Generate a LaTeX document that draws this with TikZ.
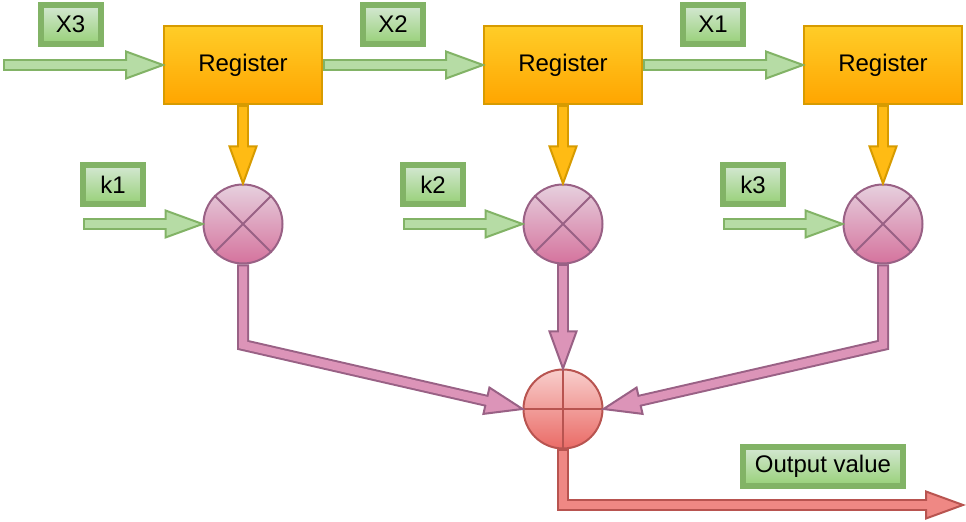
\documentclass[tikz,border=0pt]{standalone}
\usepackage{fontspec}
\setmainfont{Liberation Sans}
\usetikzlibrary{calc}
\definecolor{grntop}{HTML}{D5E8D4}
\definecolor{grnbot}{HTML}{97D077}
\definecolor{grnline}{HTML}{82B366}
\definecolor{grnmid}{HTML}{B6DCA5}
\definecolor{regtop}{HTML}{FFCD28}
\definecolor{regbot}{HTML}{FFA500}
\definecolor{regline}{HTML}{D79B00}
\definecolor{regmid}{HTML}{FFBB14}
\definecolor{multtop}{HTML}{E6D0DE}
\definecolor{multbot}{HTML}{D5739D}
\definecolor{multline}{HTML}{996185}
\definecolor{multmid}{HTML}{DC94B8}
\definecolor{sumtop}{HTML}{F8CECC}
\definecolor{sumbot}{HTML}{EA6B66}
\definecolor{sumline}{HTML}{B85450}
\definecolor{summid}{HTML}{EF8884}
\newcommand{\flexhead}{18.5pt}
\newcommand{\flexhalf}{6.75pt}
% #1 line colour, #2 fill colour, #3 shaft path, #4 point before the tip, #5 tip
\newcommand{\flexarrow}[5]{%
  \coordinate (fa base) at ($(#5)!\flexhead!(#4)$);
  \draw[#1, line width=6pt, line join=miter] #3 -- (fa base);
  \filldraw[draw=#1, fill=#2, line width=1pt, line join=miter] (#5) -- ($(fa base)!\flexhalf!90:(#5)$) -- ($(fa base)!\flexhalf!-90:(#5)$) -- cycle;
  \draw[#2, line width=4pt, line join=miter, shorten <=1pt] #3 -- ($(fa base)!1.2pt!(#5)$);
}

\begin{document}
\begin{tikzpicture}[x=0.5pt, y=-0.5pt, font=\fontsize{12}{14}\selectfont,
    reg/.style={rectangle, draw=regline, line width=1pt, top color=regtop, bottom color=regbot, minimum width=79pt, minimum height=39pt, inner sep=0pt},
    lbl/.style={rectangle, draw=grnline, line width=3pt, top color=grntop, bottom color=grnbot, minimum width=30pt, minimum height=19.5pt, inner sep=0pt},
    mult/.style={circle, draw=multline, line width=1pt, top color=multtop, bottom color=multbot, minimum size=39.5pt, inner sep=0pt},
    adder/.style={circle, draw=sumline, line width=1pt, top color=sumtop, bottom color=sumbot, minimum size=39.5pt, inner sep=0pt}]
    \useasboundingbox (0,0) rectangle (966,522);

    % registers
    \node[reg] (r1) at (243,65) {Register};
    \node[reg] (r2) at (563,65) {Register};
    \node[reg] (r3) at (883,65) {Register};

    % multipliers and adder
    \node[mult] (m1) at (243,224) {};
    \node[mult] (m2) at (563,224) {};
    \node[mult] (m3) at (883,224) {};
    \node[adder] (s) at (563,409) {};
    \draw[multline, line width=1pt] (m1.north west) -- (m1.south east) (m1.north east) -- (m1.south west);
    \draw[multline, line width=1pt] (m2.north west) -- (m2.south east) (m2.north east) -- (m2.south west);
    \draw[multline, line width=1pt] (m3.north west) -- (m3.south east) (m3.north east) -- (m3.south west);
    \draw[sumline, line width=1pt] (s.north) -- (s.south) (s.west) -- (s.east);

    % labels
    \node[lbl] (x3) at (70.5,24.5) {X3};
    \node[lbl] (x2) at (393,24.5) {X2};
    \node[lbl] (x1) at (713,24.5) {X1};
    \node[lbl] (k1) at (113,184.5) {k1};
    \node[lbl] (k2) at (433,184.5) {k2};
    \node[lbl] (k3) at (753,184.5) {k3};
    \node[lbl, minimum width=80pt] (outlbl) at (823,466.5) {Output value};

    % free ends and bends
    \coordinate (in3) at (3,65);
    \coordinate (ink1) at (83,224);
    \coordinate (ink2) at (403,224);
    \coordinate (ink3) at (723,224);
    \coordinate (b1) at (243,345);
    \coordinate (b3) at (883,345);
    \coordinate (bout) at (563,505);
    \coordinate (out) at (963,505);

    % data path
    \flexarrow{grnline}{grnmid}{(in3)}{in3}{r1.west}
    \flexarrow{grnline}{grnmid}{(r1.east)}{r1.east}{r2.west}
    \flexarrow{grnline}{grnmid}{(r2.east)}{r2.east}{r3.west}
    \flexarrow{regline}{regmid}{(r1.south)}{r1.south}{m1.north}
    \flexarrow{regline}{regmid}{(r2.south)}{r2.south}{m2.north}
    \flexarrow{regline}{regmid}{(r3.south)}{r3.south}{m3.north}

    % coefficients
    \flexarrow{grnline}{grnmid}{(ink1)}{ink1}{m1.west}
    \flexarrow{grnline}{grnmid}{(ink2)}{ink2}{m2.west}
    \flexarrow{grnline}{grnmid}{(ink3)}{ink3}{m3.west}

    % products to the sum
    \flexarrow{multline}{multmid}{(m1.south) -- (b1)}{b1}{s.west}
    \flexarrow{multline}{multmid}{(m2.south)}{m2.south}{s.north}
    \flexarrow{multline}{multmid}{(m3.south) -- (b3)}{b3}{s.east}
    \flexarrow{sumline}{summid}{(s.south) -- (bout)}{bout}{out}
\end{tikzpicture}
\end{document}
